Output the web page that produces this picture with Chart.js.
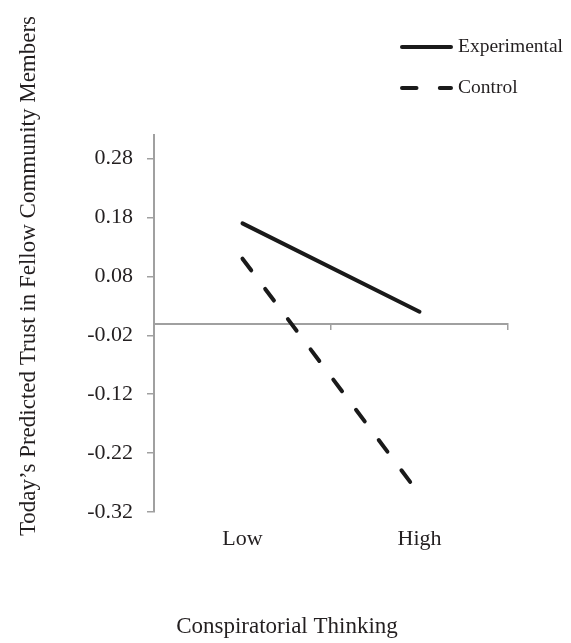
<!DOCTYPE html>
<html>
<head>
<meta charset="utf-8">
<title>Predicted Trust by Conspiratorial Thinking</title>
<script src="https://cdn.jsdelivr.net/npm/chart.js@4/dist/chart.umd.min.js"></script>
<style>
    html, body { margin: 0; padding: 0; background: #ffffff; }
    canvas { display: block; }
</style>
</head>
<body>
<canvas id="trustChart" width="571" height="643"></canvas>
<script>
// Chart data
const categories = ['Low', 'High'];
const experimental = [0.17, 0.02];
const control = [0.11, -0.29];
const yTicks = [-0.32, -0.22, -0.12, -0.02, 0.08, 0.18, 0.28];
const yMin = -0.32;
const yMax = 0.32;

const seriesNames = ['Experimental', 'Control'];
const xTitle = 'Conspiratorial Thinking';
const yTitle = 'Today\u2019s Predicted Trust in Fellow Community Members';

const fontFamily = '"Liberation Serif", "Times New Roman", serif';
const textColor = '#231f20';
const axisGrey = '#a0a0a0';

// Axis titles and the legend, drawn on top of the chart
const extraLabels = {
    id: 'extraLabels',
    afterDraw: function(chart) {
        const ctx = chart.ctx;
        ctx.save();
        ctx.fillStyle = textColor;
        ctx.textBaseline = 'middle';

        // y axis title
        ctx.save();
        ctx.font = '23px ' + fontFamily;
        ctx.textAlign = 'center';
        ctx.translate(29, 276);
        ctx.rotate(-Math.PI / 2);
        ctx.fillText(yTitle, 0, 0);
        ctx.restore();

        // x axis title
        ctx.font = '23px ' + fontFamily;
        ctx.textAlign = 'center';
        ctx.fillText(xTitle, 287, 627);

        // legend
        chart.data.datasets.forEach(function(ds, i) {
            const y = 47 + i * 41;
            ctx.beginPath();
            ctx.setLineDash(ds.borderDash || []);
            ctx.lineWidth = ds.borderWidth;
            ctx.strokeStyle = ds.borderColor;
            ctx.lineCap = 'round';
            ctx.moveTo(402, y);
            ctx.lineTo(451, y);
            ctx.stroke();
            ctx.setLineDash([]);
            ctx.font = '19.5px ' + fontFamily;
            ctx.textAlign = 'left';
            ctx.fillText(ds.label, 458, y);
        });
        ctx.restore();
    }
};

const ctx = document.getElementById('trustChart');
new Chart(ctx, {
    type: 'line',
    data: {
        labels: categories,
        datasets: [{
            label: seriesNames[0],
            data: experimental,
            borderColor: '#1a1a1a',
            borderWidth: 4,
            borderCapStyle: 'round',
            pointRadius: 0,
            tension: 0
        }, {
            label: seriesNames[1],
            data: control,
            borderColor: '#1a1a1a',
            borderWidth: 4,
            borderDash: [14.5, 23.3],
            borderCapStyle: 'round',
            pointRadius: 0,
            tension: 0
        }]
    },
    options: {
        responsive: false,
        animation: false,
        layout: {
            padding: { top: 135, right: 63, bottom: 0, left: 0 }
        },
        plugins: {
            legend: { display: false },
            tooltip: { enabled: false }
        },
        scales: {
            x: {
                type: 'category',
                position: 'bottom',
                offset: true,
                border: { display: false },
                grid: { display: false, drawTicks: false },
                ticks: {
                    padding: 14,
                    color: textColor,
                    font: { family: fontFamily, size: 22 }
                },
                afterFit: function(scale) {
                    scale.height = 131;
                }
            },
            // zero line with category tick marks
            x2: {
                type: 'category',
                labels: categories,
                position: { y: 0 },
                offset: true,
                border: { display: true, color: axisGrey, width: 2 },
                grid: {
                    offset: true,
                    drawOnChartArea: false,
                    drawTicks: true,
                    tickLength: 5,
                    color: axisGrey,
                    lineWidth: 1.5
                },
                ticks: { display: false }
            },
            y: {
                min: yMin,
                max: yMax,
                border: { display: true, color: axisGrey, width: 2 },
                grid: {
                    drawOnChartArea: false,
                    drawTicks: true,
                    tickLength: 7,
                    color: axisGrey,
                    lineWidth: 1.5
                },
                afterBuildTicks: function(scale) {
                    scale.ticks = yTicks.map(function(v) { return { value: v }; });
                },
                ticks: {
                    padding: 14,
                    color: textColor,
                    font: { family: fontFamily, size: 22 },
                    callback: function(value) {
                        return value.toFixed(2);
                    }
                },
                afterFit: function(scale) {
                    scale.width = 154;
                }
            }
        }
    },
    plugins: [extraLabels]
});
</script>
</body>
</html>
